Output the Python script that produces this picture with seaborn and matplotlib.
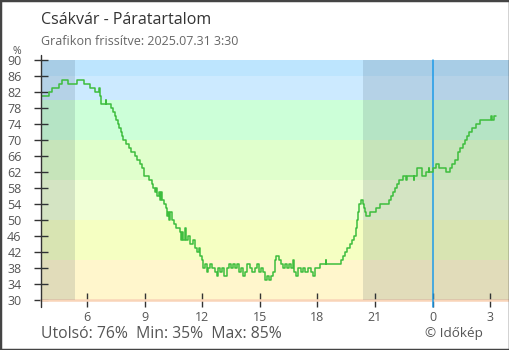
import pandas as pd
import matplotlib.pyplot as plt
import seaborn as sns
from matplotlib.patches import Rectangle

# Adatok
ido = ["03:34", "03:59", "04:11", "04:31", "04:42", "05:00", "05:29", "05:50", "06:09", "06:25",
       "06:37", "06:39", "06:42", "06:44", "06:57", "06:59", "07:15", "07:20", "07:26", "07:30",
       "07:36", "07:40", "07:44", "07:49", "07:53", "08:01", "08:10", "08:17", "08:29", "08:36",
       "08:45", "08:50", "08:57", "09:13", "09:22", "09:27", "09:32", "09:35", "09:38", "09:43",
       "09:47", "09:50", "09:54", "10:00", "10:06", "10:09", "10:12", "10:17", "10:20", "10:25",
       "10:31", "10:37", "10:50", "10:53", "10:56", "10:59", "11:05", "11:09", "11:15", "11:21",
       "11:30", "11:37", "11:43", "11:49", "11:52", "11:59", "12:03", "12:08", "12:14", "12:17",
       "12:24", "12:30", "12:40", "12:46", "12:49", "12:55", "13:01", "13:07", "13:17", "13:23",
       "13:29", "13:36", "13:42", "13:48", "13:54", "14:01", "14:07", "14:13", "14:21", "14:29",
       "14:35", "14:45", "14:51", "14:57", "15:03", "15:10", "15:16", "15:22", "15:28", "15:35",
       "15:41", "15:47", "15:50", "16:00", "16:06", "16:12", "16:18", "16:25", "16:31", "16:37",
       "16:43", "16:48", "16:53", "16:59", "17:09", "17:15", "17:21", "17:30", "17:40", "17:46",
       "17:52", "18:08", "18:26", "18:28", "19:13", "19:19", "19:26", "19:32", "19:41", "19:48",
       "19:54", "20:00", "20:03", "20:06", "20:11", "20:16", "20:22", "20:25", "20:28", "20:33",
       "20:44", "21:02", "21:14", "21:43", "21:51", "21:57", "22:03", "22:09", "22:15", "22:26",
       "22:37", "22:39", "23:02", "23:03", "23:11", "23:26", "23:40", "23:48", "23:50", "00:01",
       "00:10", "00:21", "00:42", "00:54", "01:01", "01:10", "01:18", "01:26", "01:34", "01:40",
       "01:47", "01:55", "02:04", "02:16", "02:29", "03:03", "03:05", "03:11", "03:17"]
para = [81, 82, 83, 84, 85, 84, 85, 84, 83, 82,
        83, 81, 80, 79, 80, 79, 78, 77, 76, 75,
        74, 73, 72, 71, 70, 69, 68, 67, 66, 65,
        64, 63, 61, 60, 59, 58, 57, 58, 56, 57,
        55, 57, 55, 54, 53, 51, 52, 50, 52, 50,
        49, 48, 47, 45, 47, 45, 48, 45, 46, 44,
        45, 43, 42, 43, 41, 40, 38, 39, 37, 38,
        39, 38, 37, 36, 38, 37, 38, 36, 38, 39,
        38, 39, 38, 39, 37, 38, 36, 37, 39, 38,
        37, 38, 39, 37, 38, 37, 35, 36, 35, 36,
        37, 40, 41, 40, 39, 38, 39, 38, 39, 38,
        40, 37, 36, 38, 37, 38, 37, 38, 37, 36,
        38, 39, 40, 39, 40, 41, 42, 43, 44, 45,
        46, 48, 50, 52, 54, 55, 54, 53, 52, 51,
        52, 53, 54, 55, 56, 57, 58, 59, 60, 61,
        60, 61, 60, 61, 63, 61, 62, 63, 62, 63,
        64, 63, 62, 63, 64, 65, 67, 68, 69, 70,
        71, 72, 73, 74, 75, 76, 75, 76, 76]

napkelte = "05:22"
napnyugta = "20:22"
ejfel = 24

tick_orak = [6, 9, 12, 15, 18, 21, 24, 27]
tick_cimkek = ["6", "9", "12", "15", "18", "21", "0", "3"]

sav_hatarok = [30, 40, 50, 60, 70, 80, 86, 90]
sav_szinek = ["#fff6cc", "#f5ffc2", "#f0ffd6", "#e0ffcc", "#ccffd8", "#cceaff", "#bde5fe"]


def orara(s):
    h, m = s.split(":")
    return int(h) + int(m) / 60


# idők órában, éjfél után +24
orak = []
nap = 0
elozo = -1
for s in ido:
    o = orara(s)
    if o < elozo:
        nap += 24
    elozo = o
    orak.append(o + nap)

df = pd.DataFrame({"ora": orak, "para": para})

sns.set_style("white")
plt.rcParams["font.family"] = ["Open Sans", "DejaVu Sans"]

fig = plt.figure(figsize=(5.1, 3.5), dpi=100)
ax = fig.add_axes([40.7 / 510, 50 / 350, 468.6 / 510, 240 / 350])

x0, x1 = 3.57, 28.0

for lo, hi, c in zip(sav_hatarok[:-1], sav_hatarok[1:], sav_szinek):
    ax.axhspan(lo, hi, color=c, lw=0, zorder=0)
ax.axhline(30, color="#f9d4b8", lw=1.8, zorder=1, clip_on=False)

# éjszaka
ax.axvspan(x0, orara(napkelte), color="#1b3347", alpha=0.13, lw=0, zorder=2)
ax.axvspan(orara(napnyugta), x1, color="#1b3347", alpha=0.13, lw=0, zorder=2)

ax.axvline(ejfel, ymin=-0.028, color="#1e9be8", lw=1.1, zorder=3, clip_on=False)

sns.lineplot(data=df, x="ora", y="para", drawstyle="steps-post", color="#3dbd3d",
             lw=1.1, estimator=None, ax=ax, zorder=4)

ax.set_xlim(x0, x1)
ax.set_ylim(30, 90)
ax.set_yticks(range(30, 91, 4))
ax.set_xticks(tick_orak, tick_cimkek)
ax.set_xlabel("")
ax.set_ylabel("")
ax.tick_params(left=True, bottom=True, direction="inout", length=9.5, width=1,
               color="#333333", labelsize=9, labelcolor="#555555", pad=3)
ax.tick_params(axis="y", pad=9)
for t in ax.xaxis.get_major_ticks():
    if t.get_loc() == ejfel:
        t.tick1line.set_color("#1e9be8")
for sp in ax.spines.values():
    sp.set_visible(False)
ax.plot([0, 0], [-0.028, 1.021], transform=ax.transAxes, color="#333333",
        lw=1, clip_on=False, zorder=5)

fig.text(40.7 / 510, 1 - 24 / 350, "Csákvár - Páratartalom", fontsize=11.5,
         color="#333333", va="baseline")
fig.text(40.7 / 510, 1 - 45 / 350, "Grafikon frissítve: 2025.07.31 3:30", fontsize=9,
         color="#666666", va="baseline")
fig.text(17 / 510, 1 - 51 / 350, "%", fontsize=7.5, color="#555555", ha="center", va="center")
fig.text(40.7 / 510, 1 - 338 / 350,
         f"Utolsó: {para[-1]}%  Min: {min(para)}%  Max: {max(para)}%",
         fontsize=11.3, color="#555555", va="baseline")
fig.text(425 / 510, 1 - 337 / 350, "© Időkép", fontsize=9.7, color="#555555", va="baseline")

fig.add_artist(Rectangle((0, 0), 1, 1, transform=fig.transFigure, fill=False,
                         ec="#444444", lw=2.5))

fig.savefig("out.png", dpi=100)
plt.close(fig)
